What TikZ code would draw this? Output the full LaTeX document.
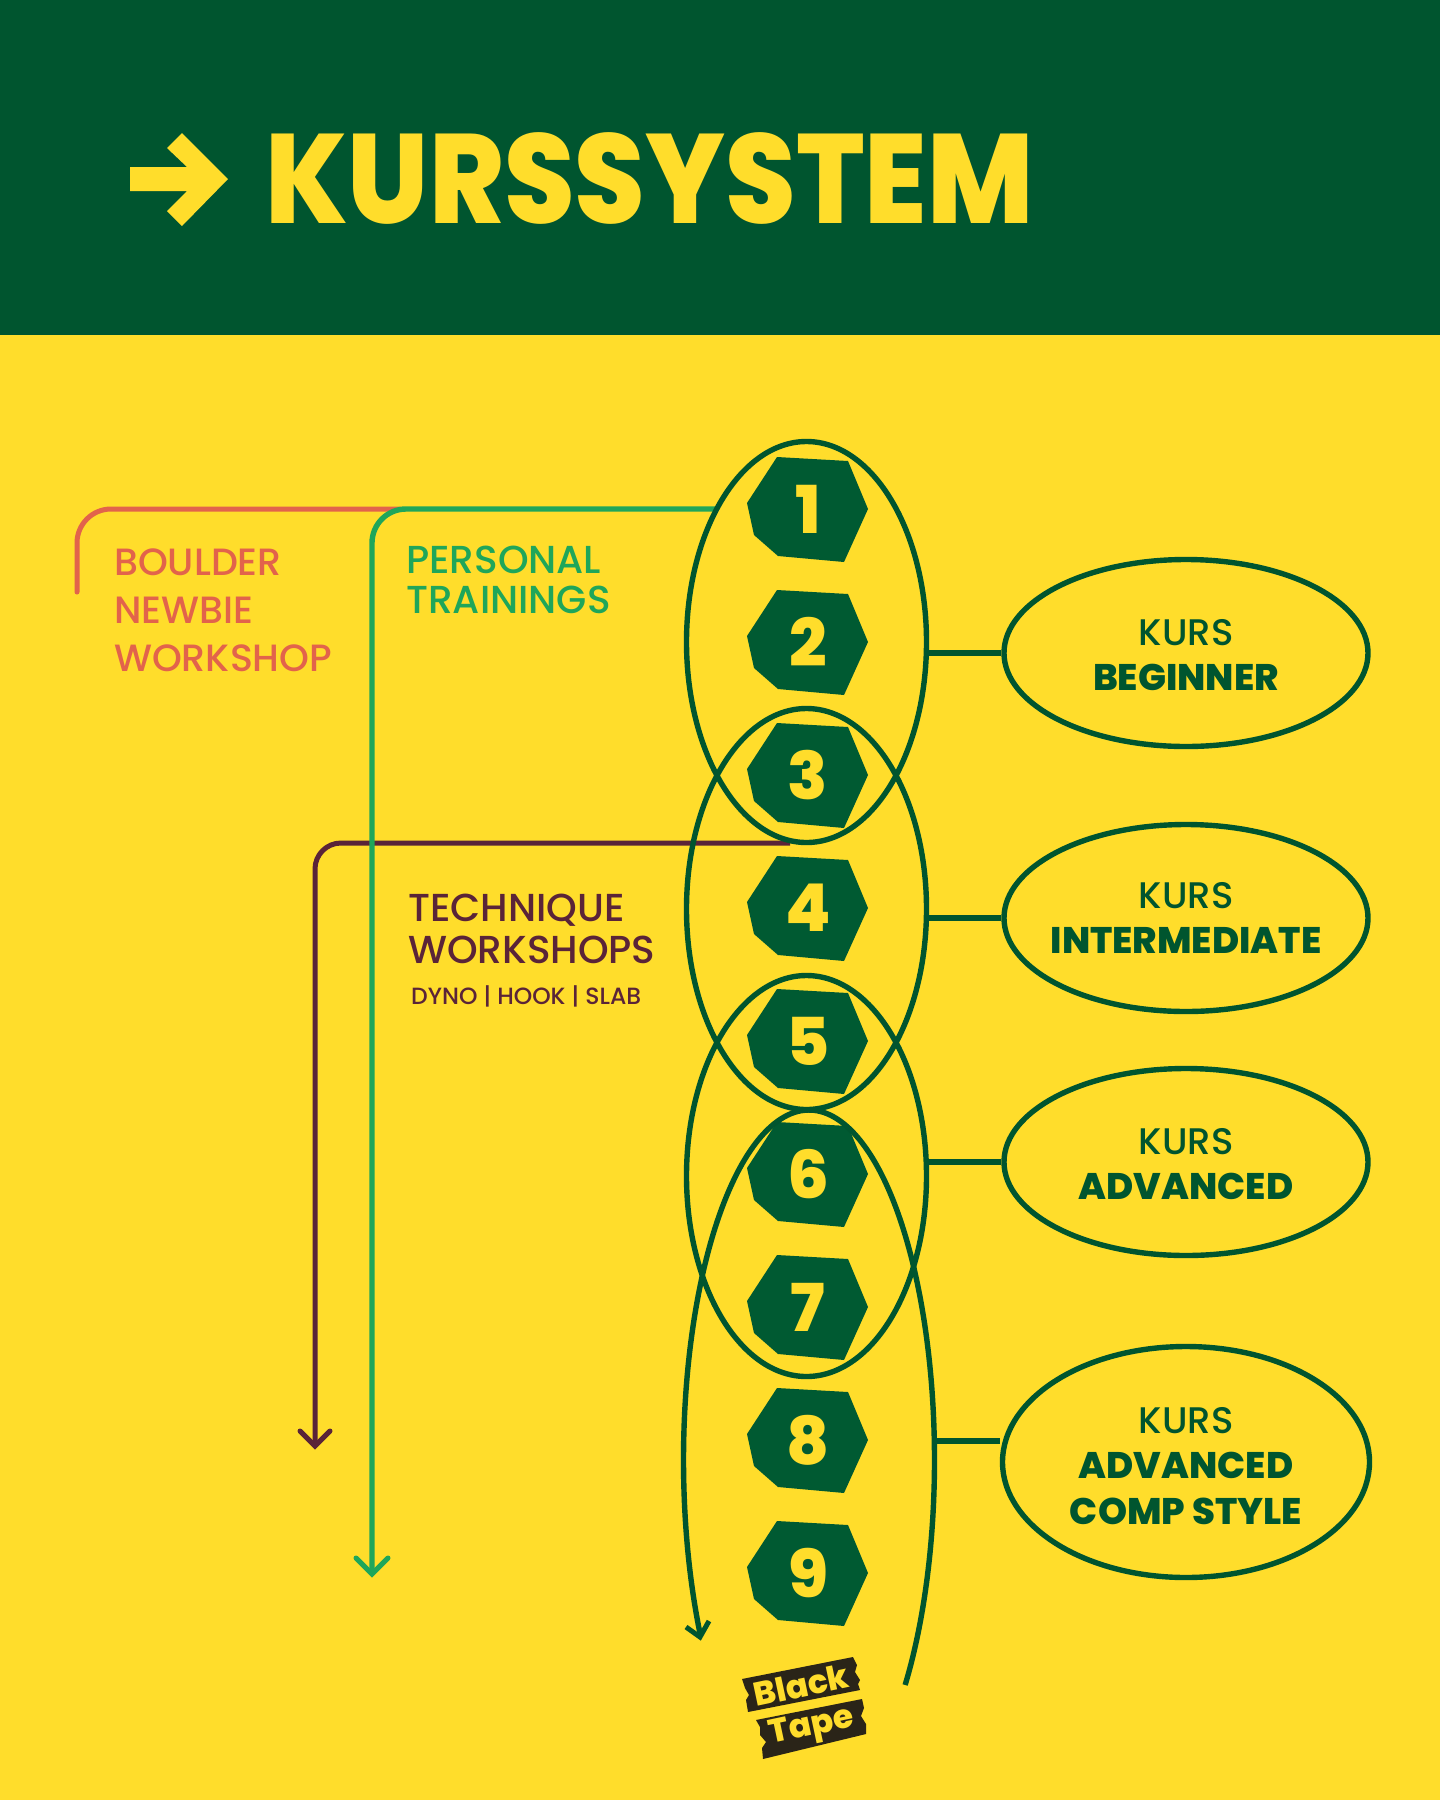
\documentclass[tikz,border=0pt]{standalone}
\usepackage{fontspec}
\setmainfont{Poppins}
\usetikzlibrary{shapes.geometric,arrows.meta,calc}
\definecolor{dgreen}{HTML}{00552F}
\definecolor{hgreen}{HTML}{005A32}
\definecolor{yel}{HTML}{FFDD2B}
\definecolor{salmon}{HTML}{E2634B}
\definecolor{lgreen}{HTML}{1FA65A}
\definecolor{maroon}{HTML}{5A2438}
\definecolor{tape}{HTML}{2A2418}
\newfontfamily\numfont{Poppins ExtraBold}
\newfontfamily\medfont{Poppins Medium}
\newcommand{\fz}[2]{\fontsize{#1}{#2}\selectfont}
\newcommand{\hb}[1]{{\numfont #1}}
\tikzset{
 x=1pt,y=-1pt,
 bigell/.style={draw=dgreen,line width=5.4pt,ellipse,inner sep=0pt,minimum width=240pt,minimum height=401pt},
 lvl/.style={draw=dgreen,line width=5.4pt,ellipse,inner sep=0pt,minimum width=364pt,minimum height=187pt},
 lvltxt/.style={inner sep=0pt,align=center,text=dgreen,font=\medfont\fz{37}{45.5}},
 conn/.style={draw=dgreen,line width=5.4pt},
 hexnum/.style={inner sep=0pt,text=yel,font=\numfont\fz{66}{66}},
 lbl/.style={inner sep=0pt,anchor=north west,align=left},
}
\newcommand{\hexa}[2]{%
 \fill[hgreen] (#1-31,#2-52)--(#1+40,#2-48)--(#1+60,#2)--(#1+36,#2+53)--(#1-30,#2+47)--(#1-54,#2+26)--(#1-61,#2-6)--cycle;}
\begin{document}
\begin{tikzpicture}
\useasboundingbox (0,0) rectangle (1440,1800);
\fill[yel] (0,0) rectangle (1440,1800);
\fill[dgreen] (0,0) rectangle (1440,335);
% title
\fill[yel] (130,167) -- (187,167) -- (167,148) -- (182,133) -- (228,179) -- (182,226) -- (167,211) -- (187,191) -- (130,191) -- cycle;
\node[inner sep=0pt,text=yel,anchor=west,font=\numfont\fz{127}{127}] (title) at (265,178) {\scalebox{0.897}[1]{KURSSYSTEM}};
% hexagons
\foreach \i/\y in {1/509,2/642,3/775,4/908,5/1041,6/1174,7/1307,8/1440,9/1573}{
 \hexa{808}{\y}
 \node[hexnum] (n\i) at (808,\y) {\i};
}
% side lines
\coordinate (s1) at (77,592);
\coordinate (s2) at (400,509);
\draw[salmon,line width=5pt,line cap=round,rounded corners=34pt] (s1) -- (77,509) -- (s2);
\coordinate (m1) at (790,843);
\coordinate (m2) at (315,1446);
\draw[maroon,line width=5pt,rounded corners=26pt] (m1) -- (315,843) -- (m2);
\draw[maroon,line width=5pt,line cap=round] (300,1431) -- (m2) -- (330,1431);
\coordinate (g1) at (716,509);
\coordinate (g2) at (372,1574);
\draw[lgreen,line width=5.4pt,rounded corners=34pt] (g1) -- (372,509) -- (g2);
\draw[lgreen,line width=5pt,line cap=round] (356,1558) -- (g2) -- (388,1558);
% ellipses
\node[bigell] (e1) at (806.5,642) {};
\node[bigell] (e2) at (806.5,909) {};
\node[bigell] (e3) at (806.5,1176) {};
% open ellipse
\coordinate (e4b) at (700,1637);
\draw[conn,smooth] plot[domain=-210:40,samples=100] ({809+125.5*cos(\x)},{1460+350*sin(\x)});
\draw[conn,line width=5pt] (686,1627) -- (e4b) -- (709,1621);
% level ovals
\node[lvl] (o1) at (1186,653) {};
\node[lvl] (o2) at (1186,918) {};
\node[lvl] (o3) at (1186,1162) {};
\node[lvl,minimum height=231pt,minimum width=367pt] (o4) at (1186,1462) {};
\node[lvltxt] (t1) at ($(o1.center)+(0,2)$) {KURS\\\hb{BEGINNER}};
\node[lvltxt] (t2) at ($(o2.center)+(0,0)$) {KURS\\\hb{INTERMEDIATE}};
\node[lvltxt] (t3) at ($(o3.center)+(0,2)$) {KURS\\\hb{ADVANCED}};
\node[lvltxt] (t4) at ($(o4.center)+(0,4)$) {KURS\\\hb{ADVANCED}\\\hb{COMP STYLE}};
\draw[conn] (o1.west -| e1.east) -- (o1.west);
\draw[conn] (o2.west -| e2.east) -- (o2.west);
\draw[conn] (o3.west -| e3.east) -- (o3.west);
\coordinate (c4) at (936,1441);
\draw[conn] (c4) -- (c4 -| o4.west);
% labels
\node[lbl,text=salmon,font=\medfont\fz{38}{48}] (bn) at (114,549) {BOULDER\\NEWBIE\\WORKSHOP};
\node[lbl,text=lgreen,font=\medfont\fz{39}{40}] (pt) at (406,546) {PERSONAL\\TRAININGS};
\node[lbl,text=maroon,font=\medfont\fz{39}{42}] (tw) at (408,894) {TECHNIQUE\\WORKSHOPS};
\node[lbl,text=maroon,font=\medfont\fz{23.5}{23.5}] (ds) at (411,985) {DYNO | HOOK | SLAB};
% logo
\fill[tape] (742,1679) -- (853,1657) -- (857,1665) -- (855,1672) -- (860,1680) -- (858,1684) -- (860,1690) -- (748,1712) -- (746,1700) -- (749,1695) -- (745,1688) -- cycle;
\fill[tape] (756,1720) -- (862,1699) -- (864,1708) -- (861,1716) -- (866,1724) -- (866,1734) -- (763,1759) -- (762,1748) -- (766,1742) -- (760,1735) -- (760,1727) -- cycle;
\node[inner sep=0pt,text=yel,rotate=12,font=\numfont\fz{33}{33}] (lg1) at (801,1685) {Black};
\node[inner sep=0pt,text=yel,rotate=12,font=\numfont\fz{33}{33}] (lg2) at (812,1728) {Tape};
\end{tikzpicture}
\end{document}
